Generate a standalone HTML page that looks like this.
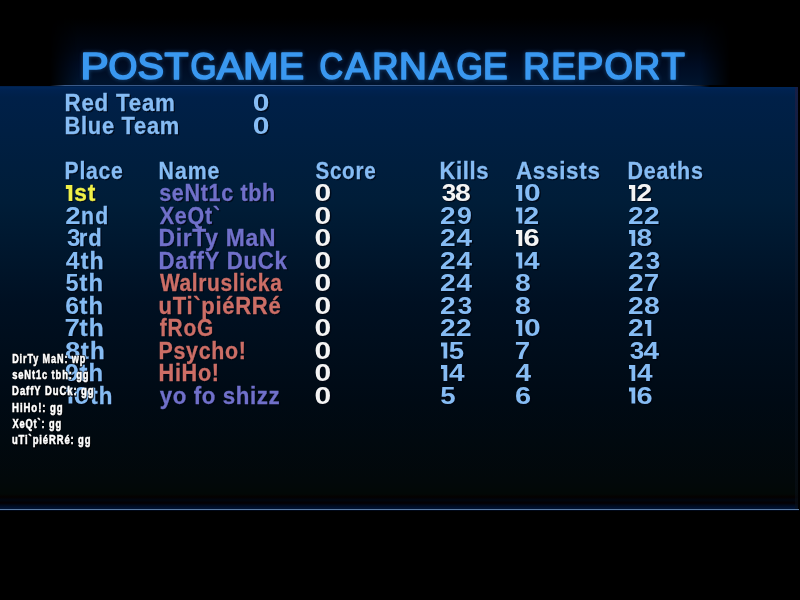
<!DOCTYPE html>
<html><head><meta charset="utf-8"><style>
html,body{margin:0;padding:0;width:800px;height:600px;overflow:hidden;background:#000}
body{position:relative}
svg{position:absolute;left:0;top:0}
text{font-family:"Liberation Sans",sans-serif;font-weight:bold;white-space:pre}
</style></head><body>
<div style="position:absolute;left:0;top:0;width:800px;height:600px;background:#000"></div>
<div style="position:absolute;left:50px;top:18px;width:680px;height:67px;background:linear-gradient(to bottom,rgba(0,6,18,0) 0,#000612 45%,#000c22 70%,#00142e 100%);-webkit-mask-image:linear-gradient(to right,transparent 0,#000 28px,#000 650px,transparent 680px)"></div>
<div style="position:absolute;left:0;top:86px;width:798px;height:423px;background:linear-gradient(to bottom,#001a40 0px,#00275a 1px,#002250 4px,#002048 11px,#001d38 116px,#001022 216px,#000a14 316px,#02080a 394px,#020806 408px,#050100 411px,#00060f 414px,#040003 417px,#000818 419px,#001232 422px,#001232 423px)"></div>
<div style="position:absolute;left:795px;top:86px;width:3px;height:423px;background:linear-gradient(to bottom,rgba(24,30,70,0.9),rgba(20,28,50,0.6) 40%,rgba(10,16,24,0.5))"></div>
<div style="position:absolute;left:798px;top:86px;width:2px;height:423px;background:#000"></div>
<div style="position:absolute;left:700px;top:86px;width:100px;height:1px;background:linear-gradient(to right,rgba(0,0,0,0),#000 10px)"></div>
<div style="position:absolute;left:50px;top:85px;width:660px;height:1px;background:linear-gradient(to right,rgba(58,90,136,0) 0,#3a5a88 15px,#3a5a88 630px,rgba(58,90,136,0) 660px)"></div>
<div style="position:absolute;left:0;top:509px;width:799px;height:1px;background:#5c7ca4"></div>
<div style="position:absolute;left:0;top:510px;width:799px;height:1px;background:#000818"></div>

<svg width="800" height="600" viewBox="0 0 800 600" style="will-change:transform">
<defs><filter id="gl" x="-5%" y="-40%" width="110%" height="180%"><feGaussianBlur stdDeviation="2.2"/></filter></defs><g filter="url(#gl)" opacity="0.4"><text transform="translate(80.39 79.20) scale(0.42182 0.36655)" font-size="100" style="font-weight:normal" fill="#3a98f0" stroke="#3a98f0" stroke-width="4.638">P</text><text transform="translate(108.59 79.20) scale(0.37065 0.36655)" font-size="100" style="font-weight:normal" fill="#3a98f0" stroke="#3a98f0" stroke-width="4.638">O</text><text transform="translate(137.52 79.20) scale(0.39778 0.36655)" font-size="100" style="font-weight:normal" fill="#3a98f0" stroke="#3a98f0" stroke-width="4.638">S</text><text transform="translate(164.62 79.20) scale(0.39283 0.36655)" font-size="100" style="font-weight:normal" fill="#3a98f0" stroke="#3a98f0" stroke-width="4.638">T</text><text transform="translate(190.60 79.20) scale(0.33360 0.36655)" font-size="100" style="font-weight:normal" fill="#3a98f0" stroke="#3a98f0" stroke-width="4.638">G</text><text transform="translate(216.71 79.20) scale(0.39664 0.36655)" font-size="100" style="font-weight:normal" fill="#3a98f0" stroke="#3a98f0" stroke-width="4.638">A</text><text transform="translate(242.96 79.20) scale(0.42750 0.36655)" font-size="100" style="font-weight:normal" fill="#3a98f0" stroke="#3a98f0" stroke-width="4.638">M</text><text transform="translate(279.06 79.20) scale(0.37557 0.36655)" font-size="100" style="font-weight:normal" fill="#3a98f0" stroke="#3a98f0" stroke-width="4.638">E</text><text transform="translate(319.42 79.20) scale(0.32574 0.36655)" font-size="100" style="font-weight:normal" fill="#3a98f0" stroke="#3a98f0" stroke-width="4.638">C</text><text transform="translate(345.07 79.20) scale(0.37547 0.36655)" font-size="100" style="font-weight:normal" fill="#3a98f0" stroke="#3a98f0" stroke-width="4.638">A</text><text transform="translate(372.14 79.20) scale(0.36338 0.36655)" font-size="100" style="font-weight:normal" fill="#3a98f0" stroke="#3a98f0" stroke-width="4.638">R</text><text transform="translate(399.01 79.20) scale(0.38446 0.36655)" font-size="100" style="font-weight:normal" fill="#3a98f0" stroke="#3a98f0" stroke-width="4.638">N</text><text transform="translate(429.04 79.20) scale(0.35924 0.36655)" font-size="100" style="font-weight:normal" fill="#3a98f0" stroke="#3a98f0" stroke-width="4.638">A</text><text transform="translate(456.59 79.20) scale(0.33789 0.36655)" font-size="100" style="font-weight:normal" fill="#3a98f0" stroke="#3a98f0" stroke-width="4.638">G</text><text transform="translate(483.10 79.20) scale(0.36877 0.36655)" font-size="100" style="font-weight:normal" fill="#3a98f0" stroke="#3a98f0" stroke-width="4.638">E</text><text transform="translate(523.20 79.20) scale(0.36965 0.36655)" font-size="100" style="font-weight:normal" fill="#3a98f0" stroke="#3a98f0" stroke-width="4.638">R</text><text transform="translate(551.30 79.20) scale(0.36962 0.36655)" font-size="100" style="font-weight:normal" fill="#3a98f0" stroke="#3a98f0" stroke-width="4.638">E</text><text transform="translate(576.60 79.20) scale(0.40280 0.36655)" font-size="100" style="font-weight:normal" fill="#3a98f0" stroke="#3a98f0" stroke-width="4.638">P</text><text transform="translate(604.40 79.20) scale(0.36516 0.36655)" font-size="100" style="font-weight:normal" fill="#3a98f0" stroke="#3a98f0" stroke-width="4.638">O</text><text transform="translate(633.83 79.20) scale(0.36495 0.36655)" font-size="100" style="font-weight:normal" fill="#3a98f0" stroke="#3a98f0" stroke-width="4.638">R</text><text transform="translate(661.52 79.20) scale(0.38138 0.36655)" font-size="100" style="font-weight:normal" fill="#3a98f0" stroke="#3a98f0" stroke-width="4.638">T</text></g>
<text class="t" transform="translate(80.39 79.20) scale(0.42182 0.36655)" font-size="100" style="font-weight:normal" fill="#3a98f0" stroke="#3a98f0" stroke-width="4.638" stroke-linejoin="round">P</text>
<text class="t" transform="translate(108.59 79.20) scale(0.37065 0.36655)" font-size="100" style="font-weight:normal" fill="#3a98f0" stroke="#3a98f0" stroke-width="4.638" stroke-linejoin="round">O</text>
<text class="t" transform="translate(137.52 79.20) scale(0.39778 0.36655)" font-size="100" style="font-weight:normal" fill="#3a98f0" stroke="#3a98f0" stroke-width="4.638" stroke-linejoin="round">S</text>
<text class="t" transform="translate(164.62 79.20) scale(0.39283 0.36655)" font-size="100" style="font-weight:normal" fill="#3a98f0" stroke="#3a98f0" stroke-width="4.638" stroke-linejoin="round">T</text>
<text class="t" transform="translate(190.60 79.20) scale(0.33360 0.36655)" font-size="100" style="font-weight:normal" fill="#3a98f0" stroke="#3a98f0" stroke-width="4.638" stroke-linejoin="round">G</text>
<text class="t" transform="translate(216.71 79.20) scale(0.39664 0.36655)" font-size="100" style="font-weight:normal" fill="#3a98f0" stroke="#3a98f0" stroke-width="4.638" stroke-linejoin="round">A</text>
<text class="t" transform="translate(242.96 79.20) scale(0.42750 0.36655)" font-size="100" style="font-weight:normal" fill="#3a98f0" stroke="#3a98f0" stroke-width="4.638" stroke-linejoin="round">M</text>
<text class="t" transform="translate(279.06 79.20) scale(0.37557 0.36655)" font-size="100" style="font-weight:normal" fill="#3a98f0" stroke="#3a98f0" stroke-width="4.638" stroke-linejoin="round">E</text>
<text class="t" transform="translate(319.42 79.20) scale(0.32574 0.36655)" font-size="100" style="font-weight:normal" fill="#3a98f0" stroke="#3a98f0" stroke-width="4.638" stroke-linejoin="round">C</text>
<text class="t" transform="translate(345.07 79.20) scale(0.37547 0.36655)" font-size="100" style="font-weight:normal" fill="#3a98f0" stroke="#3a98f0" stroke-width="4.638" stroke-linejoin="round">A</text>
<text class="t" transform="translate(372.14 79.20) scale(0.36338 0.36655)" font-size="100" style="font-weight:normal" fill="#3a98f0" stroke="#3a98f0" stroke-width="4.638" stroke-linejoin="round">R</text>
<text class="t" transform="translate(399.01 79.20) scale(0.38446 0.36655)" font-size="100" style="font-weight:normal" fill="#3a98f0" stroke="#3a98f0" stroke-width="4.638" stroke-linejoin="round">N</text>
<text class="t" transform="translate(429.04 79.20) scale(0.35924 0.36655)" font-size="100" style="font-weight:normal" fill="#3a98f0" stroke="#3a98f0" stroke-width="4.638" stroke-linejoin="round">A</text>
<text class="t" transform="translate(456.59 79.20) scale(0.33789 0.36655)" font-size="100" style="font-weight:normal" fill="#3a98f0" stroke="#3a98f0" stroke-width="4.638" stroke-linejoin="round">G</text>
<text class="t" transform="translate(483.10 79.20) scale(0.36877 0.36655)" font-size="100" style="font-weight:normal" fill="#3a98f0" stroke="#3a98f0" stroke-width="4.638" stroke-linejoin="round">E</text>
<text class="t" transform="translate(523.20 79.20) scale(0.36965 0.36655)" font-size="100" style="font-weight:normal" fill="#3a98f0" stroke="#3a98f0" stroke-width="4.638" stroke-linejoin="round">R</text>
<text class="t" transform="translate(551.30 79.20) scale(0.36962 0.36655)" font-size="100" style="font-weight:normal" fill="#3a98f0" stroke="#3a98f0" stroke-width="4.638" stroke-linejoin="round">E</text>
<text class="t" transform="translate(576.60 79.20) scale(0.40280 0.36655)" font-size="100" style="font-weight:normal" fill="#3a98f0" stroke="#3a98f0" stroke-width="4.638" stroke-linejoin="round">P</text>
<text class="t" transform="translate(604.40 79.20) scale(0.36516 0.36655)" font-size="100" style="font-weight:normal" fill="#3a98f0" stroke="#3a98f0" stroke-width="4.638" stroke-linejoin="round">O</text>
<text class="t" transform="translate(633.83 79.20) scale(0.36495 0.36655)" font-size="100" style="font-weight:normal" fill="#3a98f0" stroke="#3a98f0" stroke-width="4.638" stroke-linejoin="round">R</text>
<text class="t" transform="translate(661.52 79.20) scale(0.38138 0.36655)" font-size="100" style="font-weight:normal" fill="#3a98f0" stroke="#3a98f0" stroke-width="4.638" stroke-linejoin="round">T</text>
<text class="b" transform="translate(65.49 112.00) scale(0.22343 0.23273)" font-size="100" fill="#000814" stroke="#000814" stroke-width="3.008" opacity="0.8" letter-spacing="3.440">Red Team</text><text class="b" transform="translate(64.49 111.00) scale(0.22343 0.23273)" font-size="100" fill="#86bcf4" stroke="#86bcf4" stroke-width="1.289" letter-spacing="3.440">Red Team</text>
<text class="b" transform="translate(253.80 112.00) scale(0.30000 0.23627)" font-size="100" fill="#000814" stroke="#000814" stroke-width="2.963" opacity="0.8" letter-spacing="0.000">0</text><text class="b" transform="translate(252.80 111.00) scale(0.30000 0.23627)" font-size="100" fill="#86bcf4">0</text>
<text class="b" transform="translate(65.52 134.50) scale(0.21916 0.23273)" font-size="100" fill="#000814" stroke="#000814" stroke-width="3.008" opacity="0.8" letter-spacing="3.194">Blue Team</text><text class="b" transform="translate(64.52 133.50) scale(0.21916 0.23273)" font-size="100" fill="#86bcf4" stroke="#86bcf4" stroke-width="1.289" letter-spacing="3.194">Blue Team</text>
<text class="b" transform="translate(253.80 134.50) scale(0.30000 0.23627)" font-size="100" fill="#000814" stroke="#000814" stroke-width="2.963" opacity="0.8" letter-spacing="0.000">0</text><text class="b" transform="translate(252.80 133.50) scale(0.30000 0.23627)" font-size="100" fill="#86bcf4">0</text>
<text class="b" transform="translate(65.57 180.00) scale(0.21174 0.24000)" font-size="100" fill="#000814" stroke="#000814" stroke-width="2.917" opacity="0.8" letter-spacing="3.306">Place</text><text class="b" transform="translate(64.57 179.00) scale(0.21174 0.24000)" font-size="100" fill="#86bcf4" stroke="#86bcf4" stroke-width="1.250" letter-spacing="3.306">Place</text>
<text class="b" transform="translate(159.56 180.00) scale(0.21282 0.24000)" font-size="100" fill="#000814" stroke="#000814" stroke-width="2.917" opacity="0.8" letter-spacing="4.601">Name</text><text class="b" transform="translate(158.56 179.00) scale(0.21282 0.24000)" font-size="100" fill="#86bcf4" stroke="#86bcf4" stroke-width="1.250" letter-spacing="4.601">Name</text>
<text class="b" transform="translate(316.38 180.00) scale(0.20645 0.24000)" font-size="100" fill="#000814" stroke="#000814" stroke-width="2.917" opacity="0.8" letter-spacing="3.572">Score</text><text class="b" transform="translate(315.38 179.00) scale(0.20645 0.24000)" font-size="100" fill="#86bcf4" stroke="#86bcf4" stroke-width="1.250" letter-spacing="3.572">Score</text>
<text class="b" transform="translate(440.51 180.00) scale(0.22060 0.24000)" font-size="100" fill="#000814" stroke="#000814" stroke-width="2.917" opacity="0.8" letter-spacing="2.635">Kills</text><text class="b" transform="translate(439.51 179.00) scale(0.22060 0.24000)" font-size="100" fill="#86bcf4" stroke="#86bcf4" stroke-width="1.250" letter-spacing="2.635">Kills</text>
<text class="b" transform="translate(516.94 180.00) scale(0.22441 0.24000)" font-size="100" fill="#000814" stroke="#000814" stroke-width="2.917" opacity="0.8" letter-spacing="3.064">Assists</text><text class="b" transform="translate(515.94 179.00) scale(0.22441 0.24000)" font-size="100" fill="#86bcf4" stroke="#86bcf4" stroke-width="1.250" letter-spacing="3.064">Assists</text>
<text class="b" transform="translate(628.55 180.00) scale(0.21504 0.24000)" font-size="100" fill="#000814" stroke="#000814" stroke-width="2.917" opacity="0.8" letter-spacing="3.395">Deaths</text><text class="b" transform="translate(627.55 179.00) scale(0.21504 0.24000)" font-size="100" fill="#86bcf4" stroke="#86bcf4" stroke-width="1.250" letter-spacing="3.395">Deaths</text>
<path d="M66.85 186.00H73.35V202.00H69.60V190.00H66.85Z" fill="#000814" opacity="0.8"/><path d="M65.85 185.00H72.35V201.00H68.60V189.00H65.85Z" fill="#f0f048"/>
<text class="b" transform="translate(75.20 202.00) scale(0.22732 0.23273)" font-size="100" fill="#000814" stroke="#000814" stroke-width="3.008" opacity="0.8" letter-spacing="4.421">st</text><text class="b" transform="translate(74.20 201.00) scale(0.22732 0.23273)" font-size="100" fill="#f0f048" stroke="#f0f048" stroke-width="1.289" letter-spacing="4.421">st</text>
<text class="b" transform="translate(160.24 202.00) scale(0.21584 0.23273)" font-size="100" fill="#000814" stroke="#000814" stroke-width="3.008" opacity="0.8" letter-spacing="2.934">seNt1c tbh</text><text class="b" transform="translate(159.24 201.00) scale(0.21584 0.23273)" font-size="100" fill="#7070ca" stroke="#7070ca" stroke-width="1.289" letter-spacing="2.934">seNt1c tbh</text>
<text class="b" transform="translate(315.55 202.00) scale(0.30000 0.23627)" font-size="100" fill="#000814" stroke="#000814" stroke-width="2.963" opacity="0.8" letter-spacing="0.000">0</text><text class="b" transform="translate(314.55 201.00) scale(0.30000 0.23627)" font-size="100" fill="#f4f4f4">0</text>
<text class="b" transform="translate(442.66 202.00) scale(0.26131 0.23627)" font-size="100" fill="#000814" stroke="#000814" stroke-width="2.963" opacity="0.8" letter-spacing="0.000">3</text><text class="b" transform="translate(441.66 201.00) scale(0.26131 0.23627)" font-size="100" fill="#f4f4f4">3</text>
<text class="b" transform="translate(456.08 202.00) scale(0.28426 0.23627)" font-size="100" fill="#000814" stroke="#000814" stroke-width="2.963" opacity="0.8" letter-spacing="0.000">8</text><text class="b" transform="translate(455.08 201.00) scale(0.28426 0.23627)" font-size="100" fill="#f4f4f4">8</text>
<path d="M517.00 186.00H523.25V202.00H519.50V190.00H517.00Z" fill="#000814" opacity="0.8"/><path d="M516.00 185.00H522.25V201.00H518.50V189.00H516.00Z" fill="#86bcf4"/>
<text class="b" transform="translate(525.05 202.00) scale(0.30000 0.23627)" font-size="100" fill="#000814" stroke="#000814" stroke-width="2.963" opacity="0.8" letter-spacing="0.000">0</text><text class="b" transform="translate(524.05 201.00) scale(0.30000 0.23627)" font-size="100" fill="#86bcf4">0</text>
<path d="M630.00 186.00H636.25V202.00H632.50V190.00H630.00Z" fill="#000814" opacity="0.8"/><path d="M629.00 185.00H635.25V201.00H631.50V189.00H629.00Z" fill="#f4f4f4"/>
<text class="b" transform="translate(637.52 202.00) scale(0.28125 0.23627)" font-size="100" fill="#000814" stroke="#000814" stroke-width="2.963" opacity="0.8" letter-spacing="0.000">2</text><text class="b" transform="translate(636.52 201.00) scale(0.28125 0.23627)" font-size="100" fill="#f4f4f4">2</text>
<text class="b" transform="translate(66.23 224.50) scale(0.27708 0.23627)" font-size="100" fill="#000814" stroke="#000814" stroke-width="2.963" opacity="0.8" letter-spacing="0.000">2</text><text class="b" transform="translate(65.23 223.50) scale(0.27708 0.23627)" font-size="100" fill="#86bcf4">2</text>
<text class="b" transform="translate(82.02 224.50) scale(0.21266 0.23273)" font-size="100" fill="#000814" stroke="#000814" stroke-width="3.008" opacity="0.8" letter-spacing="5.737">nd</text><text class="b" transform="translate(81.02 223.50) scale(0.21266 0.23273)" font-size="100" fill="#86bcf4" stroke="#86bcf4" stroke-width="1.289" letter-spacing="5.737">nd</text>
<text class="b" transform="translate(160.78 224.50) scale(0.21516 0.23273)" font-size="100" fill="#000814" stroke="#000814" stroke-width="3.008" opacity="0.8" letter-spacing="3.428">XeQt`</text><text class="b" transform="translate(159.78 223.50) scale(0.21516 0.23273)" font-size="100" fill="#7070ca" stroke="#7070ca" stroke-width="1.289" letter-spacing="3.428">XeQt`</text>
<text class="b" transform="translate(315.55 224.50) scale(0.30000 0.23627)" font-size="100" fill="#000814" stroke="#000814" stroke-width="2.963" opacity="0.8" letter-spacing="0.000">0</text><text class="b" transform="translate(314.55 223.50) scale(0.30000 0.23627)" font-size="100" fill="#f4f4f4">0</text>
<text class="b" transform="translate(441.02 224.50) scale(0.28125 0.23627)" font-size="100" fill="#000814" stroke="#000814" stroke-width="2.963" opacity="0.8" letter-spacing="0.000">2</text><text class="b" transform="translate(440.02 223.50) scale(0.28125 0.23627)" font-size="100" fill="#86bcf4">2</text>
<text class="b" transform="translate(458.06 224.50) scale(0.26804 0.23627)" font-size="100" fill="#000814" stroke="#000814" stroke-width="2.963" opacity="0.8" letter-spacing="0.000">9</text><text class="b" transform="translate(457.06 223.50) scale(0.26804 0.23627)" font-size="100" fill="#86bcf4">9</text>
<path d="M517.00 208.50H523.25V224.50H519.50V212.50H517.00Z" fill="#000814" opacity="0.8"/><path d="M516.00 207.50H522.25V223.50H518.50V211.50H516.00Z" fill="#86bcf4"/>
<text class="b" transform="translate(524.52 224.50) scale(0.28125 0.23627)" font-size="100" fill="#000814" stroke="#000814" stroke-width="2.963" opacity="0.8" letter-spacing="0.000">2</text><text class="b" transform="translate(523.52 223.50) scale(0.28125 0.23627)" font-size="100" fill="#86bcf4">2</text>
<text class="b" transform="translate(629.02 224.50) scale(0.28125 0.23627)" font-size="100" fill="#000814" stroke="#000814" stroke-width="2.963" opacity="0.8" letter-spacing="0.000">2</text><text class="b" transform="translate(628.02 223.50) scale(0.28125 0.23627)" font-size="100" fill="#86bcf4">2</text>
<text class="b" transform="translate(645.02 224.50) scale(0.28125 0.23627)" font-size="100" fill="#000814" stroke="#000814" stroke-width="2.963" opacity="0.8" letter-spacing="0.000">2</text><text class="b" transform="translate(644.02 223.50) scale(0.28125 0.23627)" font-size="100" fill="#86bcf4">2</text>
<text class="b" transform="translate(67.96 247.00) scale(0.24121 0.23627)" font-size="100" fill="#000814" stroke="#000814" stroke-width="2.963" opacity="0.8" letter-spacing="0.000">3</text><text class="b" transform="translate(66.96 246.00) scale(0.24121 0.23627)" font-size="100" fill="#86bcf4">3</text>
<text class="b" transform="translate(79.77 247.00) scale(0.21948 0.23273)" font-size="100" fill="#000814" stroke="#000814" stroke-width="3.008" opacity="0.8" letter-spacing="4.579">rd</text><text class="b" transform="translate(78.77 246.00) scale(0.21948 0.23273)" font-size="100" fill="#86bcf4" stroke="#86bcf4" stroke-width="1.289" letter-spacing="4.579">rd</text>
<text class="b" transform="translate(159.46 247.00) scale(0.22860 0.23273)" font-size="100" fill="#000814" stroke="#000814" stroke-width="3.008" opacity="0.8" letter-spacing="3.117">DirTy MaN</text><text class="b" transform="translate(158.46 246.00) scale(0.22860 0.23273)" font-size="100" fill="#7070ca" stroke="#7070ca" stroke-width="1.289" letter-spacing="3.117">DirTy MaN</text>
<text class="b" transform="translate(315.55 247.00) scale(0.30000 0.23627)" font-size="100" fill="#000814" stroke="#000814" stroke-width="2.963" opacity="0.8" letter-spacing="0.000">0</text><text class="b" transform="translate(314.55 246.00) scale(0.30000 0.23627)" font-size="100" fill="#f4f4f4">0</text>
<text class="b" transform="translate(441.02 247.00) scale(0.28125 0.23627)" font-size="100" fill="#000814" stroke="#000814" stroke-width="2.963" opacity="0.8" letter-spacing="0.000">2</text><text class="b" transform="translate(440.02 246.00) scale(0.28125 0.23627)" font-size="100" fill="#86bcf4">2</text>
<text class="b" transform="translate(457.58 247.00) scale(0.28037 0.23627)" font-size="100" fill="#000814" stroke="#000814" stroke-width="2.963" opacity="0.8" letter-spacing="0.000">4</text><text class="b" transform="translate(456.58 246.00) scale(0.28037 0.23627)" font-size="100" fill="#86bcf4">4</text>
<path d="M517.00 231.00H523.25V247.00H519.50V235.00H517.00Z" fill="#000814" opacity="0.8"/><path d="M516.00 230.00H522.25V246.00H518.50V234.00H516.00Z" fill="#f4f4f4"/>
<text class="b" transform="translate(524.41 247.00) scale(0.29016 0.23627)" font-size="100" fill="#000814" stroke="#000814" stroke-width="2.963" opacity="0.8" letter-spacing="0.000">6</text><text class="b" transform="translate(523.41 246.00) scale(0.29016 0.23627)" font-size="100" fill="#f4f4f4">6</text>
<path d="M630.00 231.00H636.25V247.00H632.50V235.00H630.00Z" fill="#000814" opacity="0.8"/><path d="M629.00 230.00H635.25V246.00H631.50V234.00H629.00Z" fill="#86bcf4"/>
<text class="b" transform="translate(637.58 247.00) scale(0.28426 0.23627)" font-size="100" fill="#000814" stroke="#000814" stroke-width="2.963" opacity="0.8" letter-spacing="0.000">8</text><text class="b" transform="translate(636.58 246.00) scale(0.28426 0.23627)" font-size="100" fill="#86bcf4">8</text>
<text class="b" transform="translate(66.83 269.50) scale(0.24860 0.23627)" font-size="100" fill="#000814" stroke="#000814" stroke-width="2.963" opacity="0.8" letter-spacing="0.000">4</text><text class="b" transform="translate(65.83 268.50) scale(0.24860 0.23627)" font-size="100" fill="#86bcf4">4</text>
<text class="b" transform="translate(81.81 269.50) scale(0.23149 0.23273)" font-size="100" fill="#000814" stroke="#000814" stroke-width="3.008" opacity="0.8" letter-spacing="4.579">th</text><text class="b" transform="translate(80.81 268.50) scale(0.23149 0.23273)" font-size="100" fill="#86bcf4" stroke="#86bcf4" stroke-width="1.289" letter-spacing="4.579">th</text>
<text class="b" transform="translate(159.50 269.50) scale(0.22270 0.23273)" font-size="100" fill="#000814" stroke="#000814" stroke-width="3.008" opacity="0.8" letter-spacing="3.168">DaffY DuCk</text><text class="b" transform="translate(158.50 268.50) scale(0.22270 0.23273)" font-size="100" fill="#7070ca" stroke="#7070ca" stroke-width="1.289" letter-spacing="3.168">DaffY DuCk</text>
<text class="b" transform="translate(315.55 269.50) scale(0.30000 0.23627)" font-size="100" fill="#000814" stroke="#000814" stroke-width="2.963" opacity="0.8" letter-spacing="0.000">0</text><text class="b" transform="translate(314.55 268.50) scale(0.30000 0.23627)" font-size="100" fill="#f4f4f4">0</text>
<text class="b" transform="translate(441.02 269.50) scale(0.28125 0.23627)" font-size="100" fill="#000814" stroke="#000814" stroke-width="2.963" opacity="0.8" letter-spacing="0.000">2</text><text class="b" transform="translate(440.02 268.50) scale(0.28125 0.23627)" font-size="100" fill="#86bcf4">2</text>
<text class="b" transform="translate(457.58 269.50) scale(0.28037 0.23627)" font-size="100" fill="#000814" stroke="#000814" stroke-width="2.963" opacity="0.8" letter-spacing="0.000">4</text><text class="b" transform="translate(456.58 268.50) scale(0.28037 0.23627)" font-size="100" fill="#86bcf4">4</text>
<path d="M517.00 253.50H523.25V269.50H519.50V257.50H517.00Z" fill="#000814" opacity="0.8"/><path d="M516.00 252.50H522.25V268.50H518.50V256.50H516.00Z" fill="#86bcf4"/>
<text class="b" transform="translate(525.08 269.50) scale(0.28037 0.23627)" font-size="100" fill="#000814" stroke="#000814" stroke-width="2.963" opacity="0.8" letter-spacing="0.000">4</text><text class="b" transform="translate(524.08 268.50) scale(0.28037 0.23627)" font-size="100" fill="#86bcf4">4</text>
<text class="b" transform="translate(629.02 269.50) scale(0.28125 0.23627)" font-size="100" fill="#000814" stroke="#000814" stroke-width="2.963" opacity="0.8" letter-spacing="0.000">2</text><text class="b" transform="translate(628.02 268.50) scale(0.28125 0.23627)" font-size="100" fill="#86bcf4">2</text>
<text class="b" transform="translate(646.66 269.50) scale(0.26131 0.23627)" font-size="100" fill="#000814" stroke="#000814" stroke-width="2.963" opacity="0.8" letter-spacing="0.000">3</text><text class="b" transform="translate(645.66 268.50) scale(0.26131 0.23627)" font-size="100" fill="#86bcf4">3</text>
<text class="b" transform="translate(66.49 292.00) scale(0.23518 0.23627)" font-size="100" fill="#000814" stroke="#000814" stroke-width="2.963" opacity="0.8" letter-spacing="0.000">5</text><text class="b" transform="translate(65.49 291.00) scale(0.23518 0.23627)" font-size="100" fill="#86bcf4">5</text>
<text class="b" transform="translate(80.50 292.00) scale(0.23805 0.23273)" font-size="100" fill="#000814" stroke="#000814" stroke-width="3.008" opacity="0.8" letter-spacing="4.579">th</text><text class="b" transform="translate(79.50 291.00) scale(0.23805 0.23273)" font-size="100" fill="#86bcf4" stroke="#86bcf4" stroke-width="1.289" letter-spacing="4.579">th</text>
<text class="b" transform="translate(160.95 292.00) scale(0.20977 0.23273)" font-size="100" fill="#000814" stroke="#000814" stroke-width="3.008" opacity="0.8" letter-spacing="2.908">Walruslicka</text><text class="b" transform="translate(159.95 291.00) scale(0.20977 0.23273)" font-size="100" fill="#cc6e66" stroke="#cc6e66" stroke-width="1.289" letter-spacing="2.908">Walruslicka</text>
<text class="b" transform="translate(315.55 292.00) scale(0.30000 0.23627)" font-size="100" fill="#000814" stroke="#000814" stroke-width="2.963" opacity="0.8" letter-spacing="0.000">0</text><text class="b" transform="translate(314.55 291.00) scale(0.30000 0.23627)" font-size="100" fill="#f4f4f4">0</text>
<text class="b" transform="translate(441.02 292.00) scale(0.28125 0.23627)" font-size="100" fill="#000814" stroke="#000814" stroke-width="2.963" opacity="0.8" letter-spacing="0.000">2</text><text class="b" transform="translate(440.02 291.00) scale(0.28125 0.23627)" font-size="100" fill="#86bcf4">2</text>
<text class="b" transform="translate(457.58 292.00) scale(0.28037 0.23627)" font-size="100" fill="#000814" stroke="#000814" stroke-width="2.963" opacity="0.8" letter-spacing="0.000">4</text><text class="b" transform="translate(456.58 291.00) scale(0.28037 0.23627)" font-size="100" fill="#86bcf4">4</text>
<text class="b" transform="translate(516.08 292.00) scale(0.28426 0.23627)" font-size="100" fill="#000814" stroke="#000814" stroke-width="2.963" opacity="0.8" letter-spacing="0.000">8</text><text class="b" transform="translate(515.08 291.00) scale(0.28426 0.23627)" font-size="100" fill="#86bcf4">8</text>
<text class="b" transform="translate(629.02 292.00) scale(0.28125 0.23627)" font-size="100" fill="#000814" stroke="#000814" stroke-width="2.963" opacity="0.8" letter-spacing="0.000">2</text><text class="b" transform="translate(628.02 291.00) scale(0.28125 0.23627)" font-size="100" fill="#86bcf4">2</text>
<text class="b" transform="translate(644.82 292.00) scale(0.27660 0.23627)" font-size="100" fill="#000814" stroke="#000814" stroke-width="2.963" opacity="0.8" letter-spacing="0.000">7</text><text class="b" transform="translate(643.82 291.00) scale(0.27660 0.23627)" font-size="100" fill="#86bcf4">7</text>
<text class="b" transform="translate(66.27 314.50) scale(0.24870 0.23627)" font-size="100" fill="#000814" stroke="#000814" stroke-width="2.963" opacity="0.8" letter-spacing="0.000">6</text><text class="b" transform="translate(65.27 313.50) scale(0.24870 0.23627)" font-size="100" fill="#86bcf4">6</text>
<text class="b" transform="translate(80.50 314.50) scale(0.23805 0.23273)" font-size="100" fill="#000814" stroke="#000814" stroke-width="3.008" opacity="0.8" letter-spacing="4.579">th</text><text class="b" transform="translate(79.50 313.50) scale(0.23805 0.23273)" font-size="100" fill="#86bcf4" stroke="#86bcf4" stroke-width="1.289" letter-spacing="4.579">th</text>
<text class="b" transform="translate(159.62 314.50) scale(0.22072 0.23273)" font-size="100" fill="#000814" stroke="#000814" stroke-width="3.008" opacity="0.8" letter-spacing="3.020">uTi`piéRRé</text><text class="b" transform="translate(158.62 313.50) scale(0.22072 0.23273)" font-size="100" fill="#cc6e66" stroke="#cc6e66" stroke-width="1.289" letter-spacing="3.020">uTi`piéRRé</text>
<text class="b" transform="translate(315.55 314.50) scale(0.30000 0.23627)" font-size="100" fill="#000814" stroke="#000814" stroke-width="2.963" opacity="0.8" letter-spacing="0.000">0</text><text class="b" transform="translate(314.55 313.50) scale(0.30000 0.23627)" font-size="100" fill="#f4f4f4">0</text>
<text class="b" transform="translate(441.02 314.50) scale(0.28125 0.23627)" font-size="100" fill="#000814" stroke="#000814" stroke-width="2.963" opacity="0.8" letter-spacing="0.000">2</text><text class="b" transform="translate(440.02 313.50) scale(0.28125 0.23627)" font-size="100" fill="#86bcf4">2</text>
<text class="b" transform="translate(458.66 314.50) scale(0.26131 0.23627)" font-size="100" fill="#000814" stroke="#000814" stroke-width="2.963" opacity="0.8" letter-spacing="0.000">3</text><text class="b" transform="translate(457.66 313.50) scale(0.26131 0.23627)" font-size="100" fill="#86bcf4">3</text>
<text class="b" transform="translate(516.08 314.50) scale(0.28426 0.23627)" font-size="100" fill="#000814" stroke="#000814" stroke-width="2.963" opacity="0.8" letter-spacing="0.000">8</text><text class="b" transform="translate(515.08 313.50) scale(0.28426 0.23627)" font-size="100" fill="#86bcf4">8</text>
<text class="b" transform="translate(629.02 314.50) scale(0.28125 0.23627)" font-size="100" fill="#000814" stroke="#000814" stroke-width="2.963" opacity="0.8" letter-spacing="0.000">2</text><text class="b" transform="translate(628.02 313.50) scale(0.28125 0.23627)" font-size="100" fill="#86bcf4">2</text>
<text class="b" transform="translate(645.08 314.50) scale(0.28426 0.23627)" font-size="100" fill="#000814" stroke="#000814" stroke-width="2.963" opacity="0.8" letter-spacing="0.000">8</text><text class="b" transform="translate(644.08 313.50) scale(0.28426 0.23627)" font-size="100" fill="#86bcf4">8</text>
<text class="b" transform="translate(65.62 337.00) scale(0.27660 0.23627)" font-size="100" fill="#000814" stroke="#000814" stroke-width="2.963" opacity="0.8" letter-spacing="0.000">7</text><text class="b" transform="translate(64.62 336.00) scale(0.27660 0.23627)" font-size="100" fill="#86bcf4">7</text>
<text class="b" transform="translate(80.49 337.00) scale(0.24460 0.23273)" font-size="100" fill="#000814" stroke="#000814" stroke-width="3.008" opacity="0.8" letter-spacing="4.579">th</text><text class="b" transform="translate(79.49 336.00) scale(0.24460 0.23273)" font-size="100" fill="#86bcf4" stroke="#86bcf4" stroke-width="1.289" letter-spacing="4.579">th</text>
<text class="b" transform="translate(160.63 337.00) scale(0.20910 0.23273)" font-size="100" fill="#000814" stroke="#000814" stroke-width="3.008" opacity="0.8" letter-spacing="4.145">fRoG</text><text class="b" transform="translate(159.63 336.00) scale(0.20910 0.23273)" font-size="100" fill="#cc6e66" stroke="#cc6e66" stroke-width="1.289" letter-spacing="4.145">fRoG</text>
<text class="b" transform="translate(315.55 337.00) scale(0.30000 0.23627)" font-size="100" fill="#000814" stroke="#000814" stroke-width="2.963" opacity="0.8" letter-spacing="0.000">0</text><text class="b" transform="translate(314.55 336.00) scale(0.30000 0.23627)" font-size="100" fill="#f4f4f4">0</text>
<text class="b" transform="translate(441.02 337.00) scale(0.28125 0.23627)" font-size="100" fill="#000814" stroke="#000814" stroke-width="2.963" opacity="0.8" letter-spacing="0.000">2</text><text class="b" transform="translate(440.02 336.00) scale(0.28125 0.23627)" font-size="100" fill="#86bcf4">2</text>
<text class="b" transform="translate(457.02 337.00) scale(0.28125 0.23627)" font-size="100" fill="#000814" stroke="#000814" stroke-width="2.963" opacity="0.8" letter-spacing="0.000">2</text><text class="b" transform="translate(456.02 336.00) scale(0.28125 0.23627)" font-size="100" fill="#86bcf4">2</text>
<path d="M517.00 321.00H523.25V337.00H519.50V325.00H517.00Z" fill="#000814" opacity="0.8"/><path d="M516.00 320.00H522.25V336.00H518.50V324.00H516.00Z" fill="#86bcf4"/>
<text class="b" transform="translate(525.05 337.00) scale(0.30000 0.23627)" font-size="100" fill="#000814" stroke="#000814" stroke-width="2.963" opacity="0.8" letter-spacing="0.000">0</text><text class="b" transform="translate(524.05 336.00) scale(0.30000 0.23627)" font-size="100" fill="#86bcf4">0</text>
<text class="b" transform="translate(629.02 337.00) scale(0.28125 0.23627)" font-size="100" fill="#000814" stroke="#000814" stroke-width="2.963" opacity="0.8" letter-spacing="0.000">2</text><text class="b" transform="translate(628.02 336.00) scale(0.28125 0.23627)" font-size="100" fill="#86bcf4">2</text>
<path d="M646.00 321.00H652.25V337.00H648.50V325.00H646.00Z" fill="#000814" opacity="0.8"/><path d="M645.00 320.00H651.25V336.00H647.50V324.00H645.00Z" fill="#86bcf4"/>
<text class="b" transform="translate(66.00 359.50) scale(0.27614 0.23627)" font-size="100" fill="#000814" stroke="#000814" stroke-width="2.963" opacity="0.8" letter-spacing="0.000">8</text><text class="b" transform="translate(65.00 358.50) scale(0.27614 0.23627)" font-size="100" fill="#86bcf4">8</text>
<text class="b" transform="translate(81.80 359.50) scale(0.24132 0.23273)" font-size="100" fill="#000814" stroke="#000814" stroke-width="3.008" opacity="0.8" letter-spacing="4.579">th</text><text class="b" transform="translate(80.80 358.50) scale(0.24132 0.23273)" font-size="100" fill="#86bcf4" stroke="#86bcf4" stroke-width="1.289" letter-spacing="4.579">th</text>
<text class="b" transform="translate(159.55 359.50) scale(0.21408 0.23273)" font-size="100" fill="#000814" stroke="#000814" stroke-width="3.008" opacity="0.8" letter-spacing="3.270">Psycho!</text><text class="b" transform="translate(158.55 358.50) scale(0.21408 0.23273)" font-size="100" fill="#cc6e66" stroke="#cc6e66" stroke-width="1.289" letter-spacing="3.270">Psycho!</text>
<text class="b" transform="translate(315.55 359.50) scale(0.30000 0.23627)" font-size="100" fill="#000814" stroke="#000814" stroke-width="2.963" opacity="0.8" letter-spacing="0.000">0</text><text class="b" transform="translate(314.55 358.50) scale(0.30000 0.23627)" font-size="100" fill="#f4f4f4">0</text>
<path d="M442.00 343.50H448.25V359.50H444.50V347.50H442.00Z" fill="#000814" opacity="0.8"/><path d="M441.00 342.50H447.25V358.50H443.50V346.50H441.00Z" fill="#86bcf4"/>
<text class="b" transform="translate(449.67 359.50) scale(0.27638 0.23627)" font-size="100" fill="#000814" stroke="#000814" stroke-width="2.963" opacity="0.8" letter-spacing="0.000">5</text><text class="b" transform="translate(448.67 358.50) scale(0.27638 0.23627)" font-size="100" fill="#86bcf4">5</text>
<text class="b" transform="translate(515.82 359.50) scale(0.27660 0.23627)" font-size="100" fill="#000814" stroke="#000814" stroke-width="2.963" opacity="0.8" letter-spacing="0.000">7</text><text class="b" transform="translate(514.82 358.50) scale(0.27660 0.23627)" font-size="100" fill="#86bcf4">7</text>
<text class="b" transform="translate(630.66 359.50) scale(0.26131 0.23627)" font-size="100" fill="#000814" stroke="#000814" stroke-width="2.963" opacity="0.8" letter-spacing="0.000">3</text><text class="b" transform="translate(629.66 358.50) scale(0.26131 0.23627)" font-size="100" fill="#86bcf4">3</text>
<text class="b" transform="translate(644.58 359.50) scale(0.28037 0.23627)" font-size="100" fill="#000814" stroke="#000814" stroke-width="2.963" opacity="0.8" letter-spacing="0.000">4</text><text class="b" transform="translate(643.58 358.50) scale(0.28037 0.23627)" font-size="100" fill="#86bcf4">4</text>
<text class="b" transform="translate(66.03 382.00) scale(0.24742 0.23627)" font-size="100" fill="#000814" stroke="#000814" stroke-width="2.963" opacity="0.8" letter-spacing="0.000">9</text><text class="b" transform="translate(65.03 381.00) scale(0.24742 0.23627)" font-size="100" fill="#86bcf4">9</text>
<text class="b" transform="translate(80.50 382.00) scale(0.23805 0.23273)" font-size="100" fill="#000814" stroke="#000814" stroke-width="3.008" opacity="0.8" letter-spacing="4.579">th</text><text class="b" transform="translate(79.50 381.00) scale(0.23805 0.23273)" font-size="100" fill="#86bcf4" stroke="#86bcf4" stroke-width="1.289" letter-spacing="4.579">th</text>
<text class="b" transform="translate(159.54 382.00) scale(0.21638 0.23273)" font-size="100" fill="#000814" stroke="#000814" stroke-width="3.008" opacity="0.8" letter-spacing="3.293">HiHo!</text><text class="b" transform="translate(158.54 381.00) scale(0.21638 0.23273)" font-size="100" fill="#cc6e66" stroke="#cc6e66" stroke-width="1.289" letter-spacing="3.293">HiHo!</text>
<text class="b" transform="translate(315.55 382.00) scale(0.30000 0.23627)" font-size="100" fill="#000814" stroke="#000814" stroke-width="2.963" opacity="0.8" letter-spacing="0.000">0</text><text class="b" transform="translate(314.55 381.00) scale(0.30000 0.23627)" font-size="100" fill="#f4f4f4">0</text>
<path d="M442.00 366.00H448.25V382.00H444.50V370.00H442.00Z" fill="#000814" opacity="0.8"/><path d="M441.00 365.00H447.25V381.00H443.50V369.00H441.00Z" fill="#86bcf4"/>
<text class="b" transform="translate(450.08 382.00) scale(0.28037 0.23627)" font-size="100" fill="#000814" stroke="#000814" stroke-width="2.963" opacity="0.8" letter-spacing="0.000">4</text><text class="b" transform="translate(449.08 381.00) scale(0.28037 0.23627)" font-size="100" fill="#86bcf4">4</text>
<text class="b" transform="translate(516.58 382.00) scale(0.28037 0.23627)" font-size="100" fill="#000814" stroke="#000814" stroke-width="2.963" opacity="0.8" letter-spacing="0.000">4</text><text class="b" transform="translate(515.58 381.00) scale(0.28037 0.23627)" font-size="100" fill="#86bcf4">4</text>
<path d="M630.00 366.00H636.25V382.00H632.50V370.00H630.00Z" fill="#000814" opacity="0.8"/><path d="M629.00 365.00H635.25V381.00H631.50V369.00H629.00Z" fill="#86bcf4"/>
<text class="b" transform="translate(638.08 382.00) scale(0.28037 0.23627)" font-size="100" fill="#000814" stroke="#000814" stroke-width="2.963" opacity="0.8" letter-spacing="0.000">4</text><text class="b" transform="translate(637.08 381.00) scale(0.28037 0.23627)" font-size="100" fill="#86bcf4">4</text>
<path d="M67.00 388.50H73.30V404.50H69.55V392.50H67.00Z" fill="#000814" opacity="0.8"/><path d="M66.00 387.50H72.30V403.50H68.55V391.50H66.00Z" fill="#86bcf4"/>
<text class="b" transform="translate(74.59 404.50) scale(0.28947 0.23627)" font-size="100" fill="#000814" stroke="#000814" stroke-width="2.963" opacity="0.8" letter-spacing="0.000">0</text><text class="b" transform="translate(73.59 403.50) scale(0.28947 0.23627)" font-size="100" fill="#86bcf4">0</text>
<text class="b" transform="translate(91.22 404.50) scale(0.22385 0.23273)" font-size="100" fill="#000814" stroke="#000814" stroke-width="3.008" opacity="0.8" letter-spacing="4.579">th</text><text class="b" transform="translate(90.22 403.50) scale(0.22385 0.23273)" font-size="100" fill="#86bcf4" stroke="#86bcf4" stroke-width="1.289" letter-spacing="4.579">th</text>
<text class="b" transform="translate(160.83 404.50) scale(0.22298 0.23273)" font-size="100" fill="#000814" stroke="#000814" stroke-width="3.008" opacity="0.8" letter-spacing="2.668">yo fo shizz</text><text class="b" transform="translate(159.83 403.50) scale(0.22298 0.23273)" font-size="100" fill="#7070ca" stroke="#7070ca" stroke-width="1.289" letter-spacing="2.668">yo fo shizz</text>
<text class="b" transform="translate(315.55 404.50) scale(0.30000 0.23627)" font-size="100" fill="#000814" stroke="#000814" stroke-width="2.963" opacity="0.8" letter-spacing="0.000">0</text><text class="b" transform="translate(314.55 403.50) scale(0.30000 0.23627)" font-size="100" fill="#f4f4f4">0</text>
<text class="b" transform="translate(441.17 404.50) scale(0.27638 0.23627)" font-size="100" fill="#000814" stroke="#000814" stroke-width="2.963" opacity="0.8" letter-spacing="0.000">5</text><text class="b" transform="translate(440.17 403.50) scale(0.27638 0.23627)" font-size="100" fill="#86bcf4">5</text>
<text class="b" transform="translate(515.91 404.50) scale(0.29016 0.23627)" font-size="100" fill="#000814" stroke="#000814" stroke-width="2.963" opacity="0.8" letter-spacing="0.000">6</text><text class="b" transform="translate(514.91 403.50) scale(0.29016 0.23627)" font-size="100" fill="#86bcf4">6</text>
<path d="M630.00 388.50H636.25V404.50H632.50V392.50H630.00Z" fill="#000814" opacity="0.8"/><path d="M629.00 387.50H635.25V403.50H631.50V391.50H629.00Z" fill="#86bcf4"/>
<text class="b" transform="translate(637.41 404.50) scale(0.29016 0.23627)" font-size="100" fill="#000814" stroke="#000814" stroke-width="2.963" opacity="0.8" letter-spacing="0.000">6</text><text class="b" transform="translate(636.41 403.50) scale(0.29016 0.23627)" font-size="100" fill="#86bcf4">6</text>
<text class="c" transform="translate(12.64 363.15) scale(0.09081 0.12945)" font-size="100" fill="#000" stroke="#000" stroke-width="15.449" stroke-linejoin="round" opacity="0.7" letter-spacing="9.945">DirTy MaN: wp</text><text class="c" transform="translate(12.14 362.65) scale(0.09081 0.12945)" font-size="100" fill="#ffffff" stroke="#ffffff" stroke-width="4.249" letter-spacing="9.945">DirTy MaN: wp</text>
<text class="c" transform="translate(12.67 379.45) scale(0.09375 0.12945)" font-size="100" fill="#000" stroke="#000" stroke-width="15.449" stroke-linejoin="round" opacity="0.7" letter-spacing="9.292">seNt1c tbh: gg</text><text class="c" transform="translate(12.17 378.95) scale(0.09375 0.12945)" font-size="100" fill="#ffffff" stroke="#ffffff" stroke-width="4.249" letter-spacing="9.292">seNt1c tbh: gg</text>
<text class="c" transform="translate(12.61 395.75) scale(0.09497 0.12945)" font-size="100" fill="#000" stroke="#000" stroke-width="15.449" stroke-linejoin="round" opacity="0.7" letter-spacing="9.750">DaffY DuCk: gg</text><text class="c" transform="translate(12.11 395.25) scale(0.09497 0.12945)" font-size="100" fill="#ffffff" stroke="#ffffff" stroke-width="4.249" letter-spacing="9.750">DaffY DuCk: gg</text>
<text class="c" transform="translate(12.60 412.05) scale(0.09590 0.12945)" font-size="100" fill="#000" stroke="#000" stroke-width="15.449" stroke-linejoin="round" opacity="0.7" letter-spacing="9.629">HiHo!: gg</text><text class="c" transform="translate(12.10 411.55) scale(0.09590 0.12945)" font-size="100" fill="#ffffff" stroke="#ffffff" stroke-width="4.249" letter-spacing="9.629">HiHo!: gg</text>
<text class="c" transform="translate(12.91 428.35) scale(0.09240 0.12945)" font-size="100" fill="#000" stroke="#000" stroke-width="15.449" stroke-linejoin="round" opacity="0.7" letter-spacing="9.761">XeQt`: gg</text><text class="c" transform="translate(12.41 427.85) scale(0.09240 0.12945)" font-size="100" fill="#ffffff" stroke="#ffffff" stroke-width="4.249" letter-spacing="9.761">XeQt`: gg</text>
<text class="c" transform="translate(12.41 444.65) scale(0.09458 0.12945)" font-size="100" fill="#000" stroke="#000" stroke-width="15.449" stroke-linejoin="round" opacity="0.7" letter-spacing="9.455">uTi`piéRRé: gg</text><text class="c" transform="translate(11.91 444.15) scale(0.09458 0.12945)" font-size="100" fill="#ffffff" stroke="#ffffff" stroke-width="4.249" letter-spacing="9.455">uTi`piéRRé: gg</text>
</svg>
</body></html>
